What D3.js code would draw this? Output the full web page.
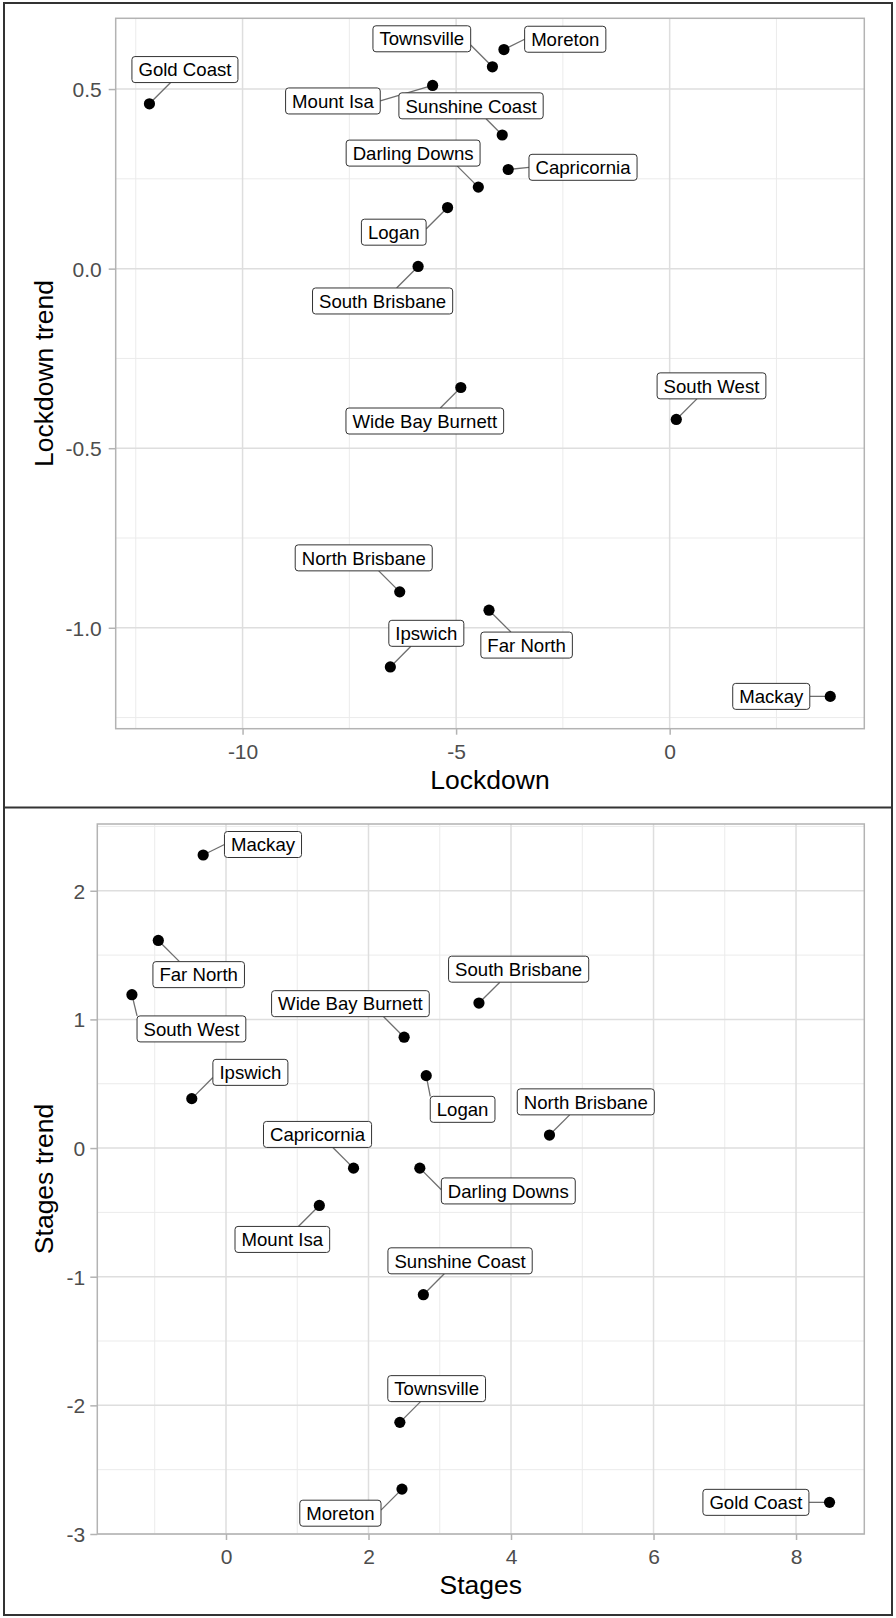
<!DOCTYPE html>
<html>
<head>
<meta charset="utf-8">
<script src="https://cdn.jsdelivr.net/npm/d3@7"></script>
<style>
  html, body { margin: 0; padding: 0; background: #fff; }
  svg { display: block; }
  text { font-family: "Liberation Sans", Arial, sans-serif; }
</style>
</head>
<body>
<svg id="chart" width="896" height="1618"></svg>
<script>
// ---------------- data ----------------
const regions = ["Gold Coast", "Mount Isa", "Townsville", "Moreton", "Sunshine Coast",
  "Capricornia", "Darling Downs", "Logan", "South Brisbane", "Wide Bay Burnett",
  "South West", "North Brisbane", "Ipswich", "Far North", "Mackay"];

const lockdown      = [-12.18, -5.55, -4.15, -3.88, -3.92, -3.78, -4.48, -5.20, -5.89, -4.89, 0.155, -6.32, -6.54, -4.23, 3.76];
const lockdownTrend = [0.459, 0.510, 0.562, 0.610, 0.372, 0.276, 0.227, 0.170, 0.006, -0.331, -0.420, -0.900, -1.109, -0.951, -1.191];

const stages      = [8.47, 1.31, 2.44, 2.47, 2.77, 1.79, 2.72, 2.81, 3.55, 2.50, -1.32, 4.54, -0.48, -0.95, -0.32];
const stagesTrend = [-2.754, -0.446, -2.132, -2.651, -1.140, -0.156, -0.156, 0.563, 1.127, 0.862, 1.192, 0.101, 0.384, 1.614, 2.278];

const lockdownXTicks = [-10, -5, 0];
const lockdownYTicks = [-1.0, -0.5, 0.0, 0.5];
const stagesXTicks = [0, 2, 4, 6, 8];
const stagesYTicks = [-3, -2, -1, 0, 1, 2];

// ---------------- layout (label placement, in px relative to the point) ----------------
const lockdownLabelOffsets = [
  [35.5, -34.2], [-99.7, 15.5], [-70.6, -28], [61.3, -10.3], [-31.2, -29.2],
  [74.8, -2.2], [-65.2, -34], [-53.8, 24.6], [-35.5, 34.5], [-36, 33.5],
  [35.2, -33.6], [-36, -34], [36, -33.6], [37.6, 34.9], [-59, 0]];
const stagesLabelOffsets = [
  [-73.6, 0], [-37, 34], [36.8, -33.7], [-61.6, 24.1], [36.7, -33.9],
  [-36, -33.7], [88.5, 22.8], [36.4, 33.7], [39.7, -33.9], [-53.7, -33.5],
  [59.5, 34.2], [36.3, -33.2], [58.6, -26.3], [40.4, 34.2], [59.8, -10.5]];

const svg = d3.select("#chart");
svg.append("rect").attr("width", 896).attr("height", 1618).attr("fill", "#fff");

function minorBetween(ticks, domain) {
  const step = ticks[1] - ticks[0];
  const out = [];
  for (let i = -1; i < ticks.length; i++) {
    const v = (i < 0 ? ticks[0] - step : ticks[i]) + step / 2;
    if (v > domain[0] && v < domain[1]) out.push(v);
  }
  return out;
}

function hyphenFormat(spec) {
  const f = d3.format(spec);
  return v => f(v).replace("\u2212", "-");
}

function drawPanel(cfg) {
  const { left, right, top, bottom, xDomain, yDomain, xVals, yVals, xTicks, yTicks,
          fmt, xTitle, yTitle, offsets, yLabelGap } = cfg;
  const x = d3.scaleLinear().domain(xDomain).range([left, right]);
  const y = d3.scaleLinear().domain(yDomain).range([bottom, top]);
  const g = svg.append("g");

  // minor gridlines
  const grid = g.append("g");
  minorBetween(xTicks, xDomain).forEach(v => {
    grid.append("line").attr("x1", x(v)).attr("x2", x(v)).attr("y1", top).attr("y2", bottom)
      .attr("stroke", "#EBEBEB").attr("stroke-width", 1);
  });
  minorBetween(yTicks, yDomain).forEach(v => {
    grid.append("line").attr("y1", y(v)).attr("y2", y(v)).attr("x1", left).attr("x2", right)
      .attr("stroke", "#EBEBEB").attr("stroke-width", 1);
  });
  // major gridlines
  xTicks.forEach(v => {
    grid.append("line").attr("x1", x(v)).attr("x2", x(v)).attr("y1", top).attr("y2", bottom)
      .attr("stroke", "#DEDEDE").attr("stroke-width", 1.5);
  });
  yTicks.forEach(v => {
    grid.append("line").attr("y1", y(v)).attr("y2", y(v)).attr("x1", left).attr("x2", right)
      .attr("stroke", "#DEDEDE").attr("stroke-width", 1.5);
  });

  // axes
  const xAxis = g.append("g").attr("transform", `translate(0,${bottom})`)
    .call(d3.axisBottom(x).tickValues(xTicks).tickFormat(hyphenFormat(fmt.x)).tickSize(6).tickPadding(9).tickSizeOuter(0));
  const yAxis = g.append("g").attr("transform", `translate(${left},0)`)
    .call(d3.axisLeft(y).tickValues(yTicks).tickFormat(hyphenFormat(fmt.y)).tickSize(7).tickPadding(yLabelGap).tickSizeOuter(0));
  [xAxis, yAxis].forEach(a => {
    a.select(".domain").remove();
    a.selectAll(".tick line").attr("stroke", "#B3B3B3").attr("stroke-width", 1.5);
    a.selectAll(".tick text").attr("fill", "#4D4D4D").style("font-size", "21px")
      .style("font-family", '"Liberation Sans", Arial, sans-serif');
  });
  xAxis.selectAll(".tick text").attr("dy", "0.71em");
  yAxis.selectAll(".tick text").attr("dy", "0.36em");

  // panel border
  g.append("rect").attr("x", left).attr("y", top).attr("width", right - left).attr("height", bottom - top)
    .attr("fill", "none").attr("stroke", "#B3B3B3").attr("stroke-width", 1.5);

  // axis titles
  g.append("text").attr("x", (left + right) / 2).attr("y", bottom + 60)
    .attr("text-anchor", "middle").style("font-size", "26.5px").attr("fill", "#000").text(xTitle);
  g.append("text").attr("transform", `translate(53,${(top + bottom) / 2}) rotate(-90)`)
    .attr("text-anchor", "middle").style("font-size", "26.5px").attr("fill", "#000").text(yTitle);

  // labels + segments
  const segG = g.append("g");
  const labG = g.append("g");
  const ptG = g.append("g");
  regions.forEach((name, i) => {
    const px = x(xVals[i]), py = y(yVals[i]);
    const cx = px + offsets[i][0], cy = py + offsets[i][1];
    const lg = labG.append("g");
    const t = lg.append("text").attr("x", cx).attr("y", cy).attr("dy", "0.36em")
      .attr("text-anchor", "middle").style("font-size", "18.6px").attr("fill", "#000").text(name);
    const w = t.node().getComputedTextLength() + 13;
    const h = 26;
    const b = { x1: cx - w / 2, x2: cx + w / 2, y1: cy - h / 2, y2: cy + h / 2 };
    lg.insert("rect", "text").attr("x", b.x1).attr("y", b.y1).attr("width", w).attr("height", h)
      .attr("rx", 3).attr("ry", 3).attr("fill", "#fff").attr("stroke", "#333").attr("stroke-width", 1);

    // segment attachment (shortest-path style)
    let ex, ey;
    const midx = cx, midy = cy;
    if (px < b.x1 || px > b.x2) {
      ex = px < b.x1 ? b.x1 : b.x2;
      const gap = Math.abs(px - ex);
      ey = py + Math.sign(midy - py) * Math.min(gap, Math.abs(midy - py));
      ey = Math.max(b.y1, Math.min(b.y2, ey));
    } else if (py < b.y1 || py > b.y2) {
      ey = py < b.y1 ? b.y1 : b.y2;
      const gap = Math.abs(py - ey);
      ex = px + Math.sign(midx - px) * Math.min(gap, Math.abs(midx - px));
      ex = Math.max(b.x1, Math.min(b.x2, ex));
    }
    if (ex !== undefined) {
      segG.append("line").attr("x1", px).attr("y1", py).attr("x2", ex).attr("y2", ey)
        .attr("stroke", "#6E6E6E").attr("stroke-width", 1.3);
    }
    ptG.append("circle").attr("cx", px).attr("cy", py).attr("r", 5.6).attr("fill", "#000");
  });
}

drawPanel({
  left: 115.7, right: 864.3, top: 18.3, bottom: 728.7,
  xDomain: [-12.97, 4.557], yDomain: [-1.281, 0.697],
  xVals: lockdown, yVals: lockdownTrend,
  xTicks: lockdownXTicks, yTicks: lockdownYTicks,
  fmt: { x: "d", y: ".1f" }, yLabelGap: 7,
  xTitle: "Lockdown", yTitle: "Lockdown trend", offsets: lockdownLabelOffsets
});

drawPanel({
  left: 97.3, right: 864.3, top: 824, bottom: 1534,
  xDomain: [-1.806, 8.958], yDomain: [-3.0, 2.519],
  xVals: stages, yVals: stagesTrend,
  xTicks: stagesXTicks, yTicks: stagesYTicks,
  fmt: { x: "d", y: "d" }, yLabelGap: 5,
  xTitle: "Stages", yTitle: "Stages trend", offsets: stagesLabelOffsets
});

// outer frame and divider
svg.append("rect").attr("x", 4).attr("y", 3).attr("width", 888).attr("height", 1612)
  .attr("fill", "none").attr("stroke", "#333").attr("stroke-width", 2);
svg.append("line").attr("x1", 4).attr("x2", 892).attr("y1", 807.5).attr("y2", 807.5)
  .attr("stroke", "#333").attr("stroke-width", 2);
</script>
</body>
</html>
